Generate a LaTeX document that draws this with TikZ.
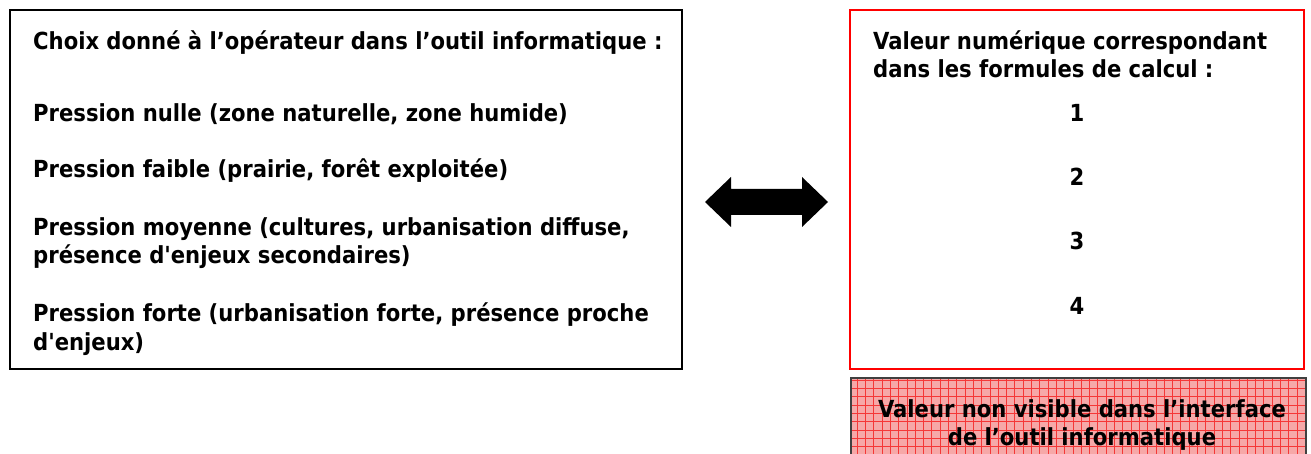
\documentclass[tikz,border=0pt]{standalone}
\usepackage{fontspec}
\setmainfont{DejaVu Sans Condensed}
\usetikzlibrary{calc}
\definecolor{pinkfill}{RGB}{246,168,168}
\definecolor{gridred}{RGB}{245,55,55}
\newcommand{\sq}{\XeTeXglyph\numexpr\XeTeXcharglyph"27\relax}
\begin{document}
\begin{tikzpicture}[x=1pt,y=-1pt,
  txt/.style={anchor=base west,inner sep=0pt,font=\fontsize{23.5}{28}\selectfont\bfseries},
  num/.style={anchor=base,inner sep=0pt,font=\fontsize{23.5}{28}\selectfont\bfseries},
  ctr/.style={anchor=base,inner sep=0pt,font=\fontsize{23.5}{28}\selectfont\bfseries},
  blackbox/.style={draw=black,line width=2pt},
  redbox/.style={draw=red,line width=2pt},
  bigarrow/.style={fill=black,draw=none}]
\useasboundingbox (0,0) rectangle (1311,454);
% left box
\draw[blackbox] (10,10) rectangle (682,369);
\node[txt] (l0) at (33,50) {Choix donné à l’opérateur dans l’outil informatique :};
\node[txt] (l1) at (33,122) {Pression nulle (zone naturelle, zone humide)};
\node[txt] (l2) at (33,178) {Pression faible (prairie, forêt exploitée)};
\node[txt] (l3) at (33,236) {Pression moyenne (cultures, urbanisation diffuse,};
\node[txt] (l3b) at (33,264) {présence d\sq enjeux secondaires)};
\node[txt] (l4) at (33,321) {Pression forte (urbanisation forte, présence proche};
\node[txt] (l4b) at (33,350) {d\sq enjeux)};
% right box
\draw[redbox] (850,10) rectangle (1304,369);
\node[txt] (r0) at (873,50) {Valeur numérique correspondant};
\node[txt] (r0b) at (873,78) {dans les formules de calcul :};
\node[num] (n1) at (1077,122) {1};
\node[num] (n2) at (1077,186) {2};
\node[num] (n3) at (1077,250) {3};
\node[num] (n4) at (1077,314) {4};
% pink box
\begin{scope}
\clip (851,378) rectangle (1306,456);
\fill[pinkfill] (851,378) rectangle (1306,456);
\foreach \x in {857,865.3,...,1306} \draw[gridred,line width=0.5pt] (\x,378) -- (\x,456);
\foreach \y in {380,388.3,...,456} \draw[gridred,line width=0.5pt] (851,\y) -- (1306,\y);
\end{scope}
\draw[draw=black!75,line width=2pt] (851,378) rectangle (1306,460);
\node[ctr] (p1) at (1082,417) {Valeur non visible dans l’interface};
\node[ctr] (p2) at (1082,445) {de l’outil informatique};
% double arrow
\fill[bigarrow] (705,202) -- (731,177) -- (731,189) -- (802,189) -- (802,177) -- (828,202) -- (802,227) -- (802,215) -- (731,215) -- (731,227) -- cycle;
\end{tikzpicture}
\end{document}
